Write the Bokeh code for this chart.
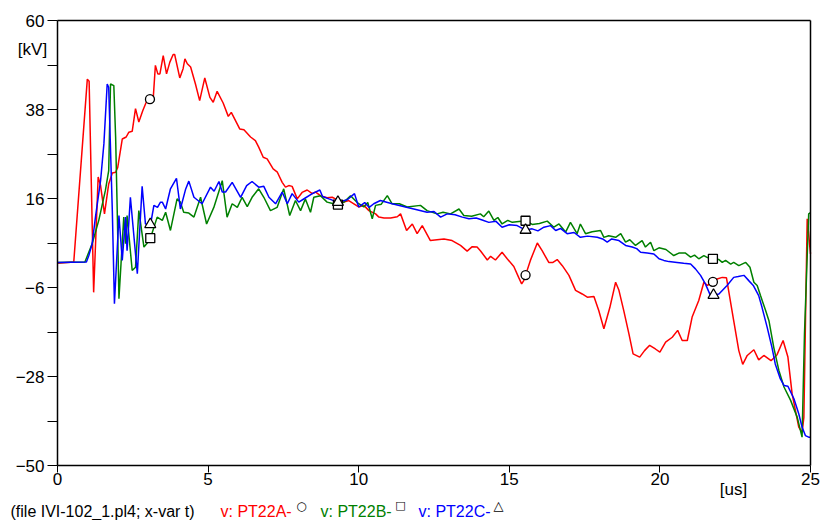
import numpy as np
from bokeh.plotting import figure
from bokeh.models import FixedTicker, Label, Range1d, LinearAxis
from bokeh.embed import file_html
from bokeh.resources import INLINE

# ---------------- data (time in us, voltage in kV) ----------------
t_A = [0, 0.54, 0.99, 1.05, 1.2, 1.35, 1.43, 1.56, 1.70, 1.82, 1.93, 2.0, 2.15, 2.28, 2.37, 2.48,
       2.59, 2.70, 2.83, 2.98, 3.10, 3.18, 3.25, 3.33, 3.40, 3.51, 3.62, 3.73, 3.84, 3.89, 4.06,
       4.17, 4.23, 4.31, 4.42, 4.58, 4.72, 4.89, 5.06, 5.17, 5.30, 5.50, 5.67, 5.77, 6.05, 6.19,
       6.41, 6.57, 6.68, 6.83, 6.96, 7.16, 7.30, 7.46, 7.57, 7.68, 7.79, 7.96, 8.12, 8.29, 8.46,
       8.57, 8.73, 8.95, 9.12, 9.23, 9.51, 9.67, 9.84, 10.0, 10.17, 10.34, 10.56, 10.67, 10.84,
       11.06, 11.28, 11.39, 11.59, 11.78, 11.94, 12.11, 12.38, 12.60, 12.83, 13.10, 13.38, 13.60,
       13.77, 13.93, 14.04, 14.27, 14.38, 14.54, 14.76, 14.93, 15.15, 15.31, 15.41, 15.48, 15.70,
       15.93, 16.09, 16.31, 16.45, 16.59, 16.76, 16.98, 17.20, 17.42, 17.59, 17.81, 17.97, 18.14,
       18.34, 18.53, 18.64, 18.80, 18.97, 19.11, 19.33, 19.49, 19.66, 19.85, 20.0, 20.19, 20.41,
       20.59, 20.74, 20.91, 21.07, 21.29, 21.46, 21.58, 21.90, 22.07, 22.21, 22.45, 22.62, 22.75,
       22.90, 23.12, 23.28, 23.45, 23.69, 23.89, 24.09, 24.25, 24.39, 24.61, 24.72, 24.78, 24.89,
       25.0]
v_A = [0, 0.3, 45.5, 45.0, -7.2, 21.3, 19.2, 12.2, 19.6, 22.3, 22.5, 23.7, 30.7, 31.2, 32.4, 32.6,
       38.2, 34.9, 37.7, 40.4, 40.6, 41.0, 48.9, 46.8, 46.8, 51.3, 46.8, 49.7, 51.6, 51.6, 45.8,
       48.1, 50.5, 49.3, 48.5, 44.3, 40.2, 45.8, 41.0, 39.8, 42.5, 39.6, 36.3, 37.3, 33.2, 33.0,
       31.2, 30.3, 28.7, 26.2, 25.8, 23.3, 22.5, 20.0, 18.8, 19.2, 19.0, 15.9, 17.5, 18.1, 17.2,
       17.6, 16.7, 16.2, 16.3, 15.9, 15.1, 15.5, 14.7, 13.9, 14.3, 13.0, 12.2, 11.4, 11.2,
       11.2, 11.5, 12.2, 8.1, 9.7, 7.3, 9.3, 5.6, 5.8, 6.0, 5.6, 4.4, 3.0,
       4.1, 4.0, 3.1, 0.8, 1.7, 0.8, 2.7, 1.1, -0.8, -3.5, -5.1, -4.3, 0.7,
       5.0, 3.1, 0.2, 0.2, 0.9, -0.6, -3.0, -6.7, -7.6, -8.4, -8.2, -11.7, -16.2,
       -10.9, -4.7, -6.7, -11.7, -17.4, -22.4, -23.2, -21.6, -20.3, -21.2, -22.0, -19.5, -18.3,
       -16.6, -19.1, -19.1, -13.3, -9.2, -4.7, -5.5, -3.9, -3.5, -3.6, -14.2, -21.6, -25.0,
       -22.8, -21.4, -23.9, -22.8, -24.1, -22.6, -19.1, -23.2, -32.3, -40.5, -41.8, -38.1, 11.0,
       2.3]

t_B = [0, 0.91, 1.15, 1.37, 1.59, 1.70, 1.76, 1.87, 1.93, 1.99, 2.04, 2.20, 2.26, 2.31, 2.48, 2.59,
       2.70, 2.87, 2.98, 3.09, 3.31, 3.48, 3.59, 3.75, 3.97, 4.08, 4.19, 4.36, 4.53, 4.75, 4.95,
       5.19, 5.47, 5.63, 5.80, 5.97, 6.13, 6.30, 6.46, 6.68, 6.85, 7.07, 7.29, 7.51, 7.71, 7.90,
       8.07, 8.23, 8.40, 8.51, 8.73, 8.95, 9.17, 9.31, 9.51, 9.73, 9.95, 10.17, 10.30, 10.45,
       10.56, 10.75, 10.95, 11.11, 11.35, 11.61, 12.05, 12.27, 12.60, 12.80, 13.05, 13.33, 13.49,
       13.75, 14.04, 14.15, 14.32, 14.49, 14.62, 14.76, 14.95, 15.10, 15.54, 15.76, 16.0, 16.26,
       16.48, 16.65, 16.87, 17.03, 17.25, 17.36, 17.53, 17.75, 18.03, 18.14, 18.30, 18.53, 18.70,
       18.86, 19.0, 19.19, 19.41, 19.52, 19.69, 19.80, 19.97, 20.20, 20.46, 20.63, 20.85, 21.02,
       21.15, 21.29, 21.46, 21.58, 21.76, 21.96, 22.07, 22.18, 22.35, 22.45, 22.62, 22.85, 22.99,
       23.12, 23.23, 23.34, 23.51, 23.62, 23.78, 23.95, 24.12, 24.34, 24.56, 24.72, 24.80, 24.94,
       25.0]
v_B = [0.2, 0.3, 4.8, 10.6, 18.0, 22.9, 44.3, 43.9, 31.2, 10.6, -8.8, 11.4, 4.8, 11.8, -1.8, -1.0,
       13.0, 4.0, 5.0, 6.3, 11.4, 10.6, 12.6, 8.1, 15.9, 15.1, 12.6, 12.4, 11.4, 16.3, 9.7,
       13.8, 20.4, 11.4, 14.7, 13.8, 16.3, 14.0, 16.3, 18.4, 16.3, 13.0, 13.8, 18.4, 11.8, 15.5,
       13.0, 15.9, 12.6, 16.3, 16.7, 15.1, 14.7, 14.5, 15.1, 16.7, 15.0, 13.9, 15.0, 11.0,
       14.3, 14.6, 16.7, 14.7, 14.7, 13.9, 14.3, 13.0, 12.2, 12.6, 12.2, 13.4, 11.8,
       11.6, 12.2, 11.5, 12.9, 10.6, 11.3, 9.7, 10.6, 10.1, 10.5, 9.6, 9.8, 10.4,
       8.9, 9.7, 7.7, 10.1, 7.3, 9.7, 7.3, 7.8, 8.1, 6.4, 6.8, 6.4, 7.3,
       5.2, 5.8, 4.4, 5.6, 4.0, 5.2, 3.1, 3.8, 3.4, 1.9, 2.5, 2.5, 1.5,
       2.0, 1.1, 1.9, 1.4, 1.1, 0.9, 0.2, 0.7, -0.2, 0.2, -0.6, 0.2, -1.0,
       -4.7, -5.5, -8.0, -11.7, -14.2, -20.8, -26.5, -30.6, -33.9, -38.1, -43.0, -17.5, 12.2,
       12.5]

t_C = [0, 0.96, 1.04, 1.15, 1.26, 1.43, 1.54, 1.65, 1.70, 1.82, 1.89, 2.04, 2.15, 2.26, 2.31, 2.42,
       2.65, 2.81, 2.92, 3.09, 3.20, 3.32, 3.42, 3.48, 3.59, 3.75, 3.95, 4.08, 4.25, 4.36, 4.53,
       4.80, 5.08, 5.20, 5.36, 5.47, 5.58, 5.80, 6.08, 6.28, 6.46, 6.68, 6.85, 7.02, 7.24, 7.46,
       7.63, 7.79, 8.01, 8.20, 8.46, 8.71, 8.80, 9.01, 9.31, 9.62, 9.86, 10.0, 10.20, 10.35, 10.50,
       10.72, 11.11, 11.55, 11.83, 12.27, 12.50, 12.72, 12.94, 13.20, 13.44, 13.66, 13.90, 14.10,
       14.32, 14.55, 14.76, 15.00, 15.26, 15.54, 15.76, 15.95, 16.15, 16.37, 16.54, 16.70, 16.92,
       17.15, 17.36, 17.60, 17.92, 18.10, 18.25, 18.40, 18.64, 18.86, 19.08, 19.23, 19.36, 19.58,
       19.80, 19.97, 20.13, 20.30, 20.57, 20.79, 21.02, 21.18, 21.35, 21.51, 21.68, 21.85, 21.96,
       22.23, 22.45, 22.60, 22.79, 22.95, 23.10, 23.28, 23.39, 23.56, 23.72, 23.83, 24.00, 24.12,
       24.25, 24.45, 24.61, 24.72, 24.83, 24.94, 25.0]
v_C = [0.2, 0.3, 1.9, 4.8, 11.4, 20.4, 29.5, 44.3, 43.5, 13.0, -10.0, 11.8, 0.7, 11.4, 3.1, 16.3,
       -2.6, 19.0, 9.7, 9.6, 14.3, 13.8, 15.1, 15.1, 13.4, 18.4, 21.0, 13.4, 18.2, 20.3, 16.3,
       14.7, 18.8, 17.8, 20.2, 17.6, 17.6, 20.0, 16.3, 19.2, 20.2, 18.8, 19.0, 16.3, 14.7, 17.6,
       14.7, 17.2, 15.1, 16.0, 17.2, 18.1, 16.5, 15.9, 15.1, 15.7, 17.2, 13.9, 15.0, 13.8, 14.7,
       15.5, 14.7, 13.9, 13.4, 12.6, 12.8, 11.4, 12.2, 12.0, 11.4, 11.0, 11.2, 10.7,
       10.1, 10.4, 8.9, 9.5, 9.3, 8.2, 8.5, 8.0, 8.9, 9.3, 8.1, 8.6, 7.3,
       7.6, 6.4, 6.7, 6.4, 6.0, 5.2, 6.0, 5.6, 4.4, 4.0, 3.6, 2.7, 2.5,
       2.3, 1.1, 0.7, 0.4, 0.2, 0.0, -0.2, -1.4, -3.0, -5.1, -8.0, -7.8, -7.6,
       -5.5, -3.5, -3.3, -3.0, -4.3, -5.5, -8.0, -10.9, -15.8, -20.8, -24.9, -28.6, -30.2,
       -30.4, -33.5, -37.2, -40.5, -42.6, -43.0, -43.0]

# marker times (ATP-style identification markers)
mark_t_A = [3.07, 15.54, 21.76]
mark_t_B = [3.08, 9.31, 15.54, 21.76]
mark_t_C = [3.08, 9.31, 15.54, 21.78]

x_ticks = [0, 5, 10, 15, 20, 25]
y_ticks = [-50, -28, -6, 16, 38, 60]
y_minor = [-39, -17, 5, 27, 49]
X_MIN, X_MAX = 0, 25
Y_MIN, Y_MAX = -50, 60

RED, GREEN, BLUE = "#ff0000", "#008000", "#0000ff"
FONT = "Liberation Sans"

# layout: axes box occupies page pixels x 57..810, y 20..465 of an 822x520 canvas
W, H = 822, 520
L_PX, R_PX, T_PX, B_PX = 57, 810, 20, 465
sx = (R_PX - L_PX) / (X_MAX - X_MIN)
sy = (B_PX - T_PX) / (Y_MAX - Y_MIN)

def X(px):
    return X_MIN + (px - L_PX) / sx

def Y(py):
    return Y_MAX - (py - T_PX) / sy

p = figure(width=W, height=H, output_backend="svg", toolbar_location=None,
           x_range=Range1d(X(0), X(W)), y_range=Range1d(Y(H), Y(0)),
           min_border=0, x_axis_location=None, y_axis_location=None)
p.grid.visible = False
p.outline_line_color = None
p.background_fill_color = "white"
p.border_fill_color = "white"

def style_axis(ax):
    ax.axis_line_color = "black"
    ax.axis_line_width = 1.5
    ax.major_tick_line_color = "black"
    ax.minor_tick_line_color = "black"
    ax.major_tick_line_width = 1
    ax.minor_tick_line_width = 1
    ax.major_tick_in = 0
    ax.minor_tick_in = 0
    ax.major_label_text_font = FONT
    ax.major_label_text_font_size = "17px"
    ax.major_label_text_color = "black"

xax = LinearAxis(fixed_location=Y_MIN, bounds=(X_MIN, X_MAX),
                 ticker=FixedTicker(ticks=x_ticks, minor_ticks=[]))
style_axis(xax)
xax.major_tick_out = 7
xax.major_label_standoff = 0
p.add_layout(xax, "below")

yax = LinearAxis(fixed_location=X_MIN, bounds=(Y_MIN, Y_MAX),
                 ticker=FixedTicker(ticks=y_ticks, minor_ticks=y_minor))
style_axis(yax)
yax.major_tick_out = 10
yax.minor_tick_out = 10
yax.major_label_standoff = 3
p.add_layout(yax, "left")

top = LinearAxis(fixed_location=Y_MAX, bounds=(X_MIN, X_MAX),
                 ticker=FixedTicker(ticks=[], minor_ticks=[]))
style_axis(top)
top.major_label_text_alpha = 0
p.add_layout(top, "above")

right = LinearAxis(fixed_location=X_MAX, bounds=(Y_MIN, Y_MAX),
                   ticker=FixedTicker(ticks=[], minor_ticks=[]))
style_axis(right)
right.major_label_text_alpha = 0
p.add_layout(right, "right")

p.line(t_A, v_A, line_color=RED, line_width=1.5)
p.line(t_B, v_B, line_color=GREEN, line_width=1.5)
p.line(t_C, v_C, line_color=BLUE, line_width=1.5)

p.scatter(mark_t_A, np.interp(mark_t_A, t_A, v_A), marker="circle", size=9,
          fill_color="white", line_color="black", line_width=1.3)
p.scatter(mark_t_B, np.interp(mark_t_B, t_B, v_B), marker="square", size=9,
          fill_color="white", line_color="black", line_width=1.3)
p.scatter(mark_t_C, np.interp(mark_t_C, t_C, v_C), marker="triangle", size=11,
          fill_color="white", line_color="black", line_width=1.3)

def lab(px, py, text, color="black", size="17px", align="left", font=FONT):
    p.add_layout(Label(x=X(px), y=Y(py), text=text,
                       text_color=color, text_font=font, text_font_size=size,
                       text_align=align, text_baseline="middle"))

lab(32, 49, "[kV]", align="center")
lab(733, 489, "[us]", align="center")

LY = 511
lab(10, LY, "(file IVI-102_1.pl4; x-var t)", size="16px")
lab(220, LY, "v: PT22A-", color=RED, size="16px")
lab(301, LY - 6, "\u25CB", size="12px", font="DejaVu Sans", align="center")
lab(320, LY, "v: PT22B-", color=GREEN, size="16px")
lab(400, LY - 6, "\u25A1", size="11px", font="DejaVu Sans", align="center")
lab(418, LY, "v: PT22C-", color=BLUE, size="16px")
lab(498, LY - 6, "\u25B3", size="13px", font="DejaVu Sans", align="center")

open("out.html", "w").write(file_html(p, INLINE))
